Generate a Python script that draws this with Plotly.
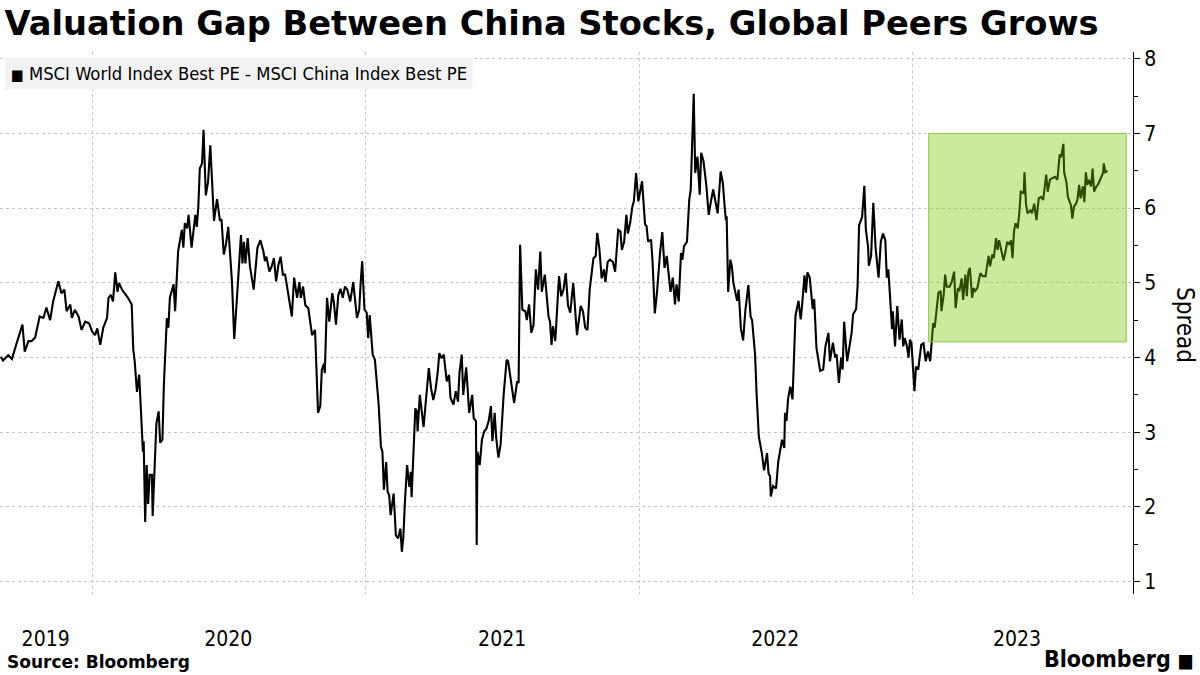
import pandas as pd
import plotly.graph_objects as go

# spread, dated as days after 2019-09-01
day_offset = [
    0, 3, 10, 15, 19, 23, 29, 32, 37, 41, 46, 52, 57, 61, 66, 70, 77, 81, 85, 88,
    93, 95, 99, 104, 108, 113, 118, 122, 126, 129, 133, 137, 142, 144, 147, 150, 153, 156, 158, 162,
    166, 170, 175, 177, 179, 182, 185, 187, 190, 191, 193, 195, 197, 199, 202, 203, 206, 208, 211, 213,
    216, 218, 222, 224, 226, 231, 233, 237, 242, 244, 246, 249, 251, 255, 260, 262, 264, 266, 269, 271,
    274, 277, 280, 282, 285, 289, 293, 295, 298, 301, 304, 309, 312, 315, 321, 323, 325, 327, 330, 333,
    338, 343, 347, 351, 353, 355, 359, 362, 365, 368, 371, 374, 377, 380, 385, 389, 392, 396, 399, 401,
    404, 407, 411, 416, 420, 422, 424, 427, 429, 432, 433, 436, 439, 443, 445, 448, 451, 454, 457, 460,
    463, 467, 471, 476, 479, 481, 483, 486, 489, 491, 493, 497, 500, 505, 508, 510, 512, 515, 517, 519,
    521, 525, 528, 531, 534, 536, 538, 540, 543, 546, 548, 549, 551, 554, 556, 557, 560, 565, 568, 572,
    575, 578, 581, 584, 586, 589, 592, 596, 599, 601, 605, 608, 611, 613, 616, 618, 622, 626, 630, 632,
    635, 636, 637, 640, 643, 646, 649, 652, 655, 657, 660, 662, 665, 668, 672, 676, 678, 682, 686, 690,
    692, 694, 697, 701, 703, 706, 709, 712, 715, 718, 721, 723, 727, 732, 734, 736, 738, 741, 744, 746,
    749, 752, 755, 758, 761, 765, 770, 772, 775, 778, 781, 784, 787, 792, 795, 797, 800, 803, 806, 808,
    811, 814, 818, 821, 825, 828, 830, 833, 836, 838, 841, 844, 846, 849, 852, 854, 857, 859, 861, 863,
    865, 869, 871, 874, 877, 881, 884, 887, 890, 893, 895, 898, 901, 903, 906, 909, 911, 913, 917, 920,
    922, 926, 928, 931, 934, 936, 939, 943, 946, 949, 952, 955, 958, 962, 965, 967, 969, 970, 972, 975,
    977, 979, 981, 984, 986, 989, 992, 995, 999, 1002, 1004, 1008, 1010, 1013, 1017, 1020, 1024, 1026, 1028, 1029,
    1032, 1036, 1039, 1044, 1047, 1048, 1050, 1052, 1055, 1058, 1060, 1062, 1066, 1069, 1071, 1074, 1076, 1078, 1081, 1085,
    1087, 1090, 1095, 1099, 1102, 1106, 1108, 1112, 1115, 1117, 1120, 1123, 1125, 1127, 1131, 1134, 1137, 1139, 1143, 1145,
    1147, 1151, 1154, 1156, 1159, 1160, 1163, 1166, 1169, 1173, 1176, 1179, 1182, 1184, 1186, 1188, 1191, 1192, 1195, 1198,
    1201, 1204, 1206, 1208, 1211, 1213, 1215, 1217, 1219, 1221, 1223, 1226, 1230, 1233, 1236, 1239, 1242, 1244, 1246, 1248,
    1251, 1253, 1256, 1257, 1260, 1262, 1264, 1268, 1271, 1274, 1276, 1279, 1281, 1284, 1286, 1289, 1291, 1293, 1295, 1298,
    1300, 1302, 1305, 1309, 1312, 1316, 1320, 1322, 1325, 1327, 1330, 1332, 1334, 1338, 1340, 1342, 1345, 1348, 1350, 1352,
    1354, 1356, 1359, 1361, 1363, 1367, 1368, 1370, 1372, 1376, 1378, 1381, 1384, 1387, 1390, 1393, 1397, 1399, 1402, 1405,
    1409, 1412, 1415, 1417, 1420, 1421, 1424, 1426, 1428, 1430, 1432, 1434, 1437, 1439, 1441, 1443, 1446, 1448, 1450, 1452,
    1454, 1457, 1459, 1461, 1464, 1466, 1469, 1473, 1474, 1476, 1479,
]
spread = [
    4.01, 3.96, 4.03, 3.98, 4.12, 4.24, 4.44, 4.08, 4.22, 4.22, 4.27, 4.55, 4.53, 4.67, 4.50, 4.75, 5.02, 4.86, 4.91, 4.62,
    4.71, 4.53, 4.64, 4.55, 4.37, 4.48, 4.46, 4.35, 4.30, 4.39, 4.17, 4.40, 4.53, 4.80, 4.84, 4.75, 5.14, 4.88, 5.00, 4.91,
    4.86, 4.80, 4.71, 4.12, 3.95, 3.54, 3.77, 3.32, 2.74, 2.88, 1.80, 2.56, 2.04, 2.43, 2.43, 1.88, 2.58, 3.12, 3.28, 2.86,
    2.90, 3.64, 4.53, 4.40, 4.80, 4.98, 4.62, 5.42, 5.71, 5.47, 5.80, 5.73, 5.91, 5.47, 5.91, 5.75, 6.02, 6.53, 6.60, 7.05,
    6.17, 6.35, 6.84, 6.46, 5.83, 6.12, 5.83, 5.85, 5.38, 5.52, 5.75, 5.01, 4.25, 4.70, 5.64, 5.26, 5.55, 5.26, 5.60, 5.22,
    4.91, 5.47, 5.57, 5.42, 5.29, 5.35, 5.15, 5.22, 5.33, 5.02, 5.24, 5.35, 5.11, 5.11, 4.80, 4.55, 5.07, 4.80, 5.01, 4.80,
    4.95, 4.70, 4.66, 4.30, 4.37, 3.79, 3.26, 3.35, 3.83, 3.92, 3.79, 4.80, 4.48, 4.86, 4.75, 4.44, 4.83, 4.92, 4.80, 4.95,
    4.91, 4.75, 5.01, 4.53, 4.64, 5.01, 5.29, 4.64, 4.60, 4.26, 4.57, 4.04, 3.97, 3.37, 2.81, 2.74, 2.23, 2.60, 2.20, 2.16,
    1.89, 2.18, 1.62, 1.58, 1.71, 1.40, 1.60, 2.05, 2.56, 2.27, 2.47, 2.13, 2.65, 3.32, 3.28, 3.01, 3.50, 3.07, 3.41, 3.86,
    3.59, 3.43, 3.57, 3.81, 4.06, 3.99, 4.04, 3.68, 3.77, 3.46, 3.37, 3.55, 3.41, 3.80, 4.04, 3.50, 3.87, 3.26, 3.50, 3.19,
    3.15, 1.49, 2.74, 2.56, 2.90, 3.01, 3.05, 3.15, 3.35, 2.88, 3.26, 2.93, 2.66, 2.84, 3.50, 3.97, 3.95, 3.68, 3.39, 3.68,
    3.66, 5.51, 4.64, 4.62, 4.50, 4.71, 4.33, 4.44, 5.18, 4.91, 5.42, 4.88, 5.11, 4.55, 4.48, 4.17, 4.42, 4.22, 4.71, 5.09,
    4.82, 4.91, 5.13, 4.70, 4.60, 5.00, 4.30, 4.44, 4.69, 4.62, 4.40, 4.37, 4.91, 5.33, 5.36, 5.67, 5.45, 5.06, 5.18, 5.01,
    5.28, 5.31, 5.28, 5.15, 5.71, 5.69, 5.44, 5.55, 5.91, 5.66, 5.80, 6.02, 6.09, 6.47, 6.09, 6.20, 6.36, 6.07, 5.78, 5.76,
    5.55, 5.58, 5.28, 4.59, 4.88, 5.40, 5.68, 5.20, 5.36, 5.07, 4.88, 5.07, 4.71, 4.98, 4.75, 5.40, 5.31, 5.49, 5.55, 6.11,
    6.25, 7.53, 6.47, 6.69, 6.18, 6.74, 6.63, 6.29, 5.91, 6.09, 6.25, 6.09, 5.93, 6.49, 6.33, 6.06, 5.84, 5.89, 4.88, 5.31,
    5.22, 5.00, 4.91, 4.76, 4.91, 4.39, 4.23, 4.63, 4.97, 4.55, 4.50, 4.04, 3.52, 2.94, 2.72, 2.49, 2.72, 2.45, 2.41, 2.14,
    2.28, 2.25, 2.61, 2.90, 2.79, 3.26, 3.15, 3.44, 3.61, 3.44, 4.00, 4.56, 4.76, 4.51, 4.72, 5.10, 4.87, 5.14, 5.07, 4.65,
    4.78, 4.13, 3.82, 3.84, 4.15, 4.33, 3.95, 4.20, 4.00, 4.04, 3.66, 4.00, 3.84, 4.48, 3.95, 4.17, 4.33, 4.58, 4.65, 4.96,
    5.77, 5.88, 6.30, 5.72, 5.48, 5.23, 5.36, 6.07, 5.47, 5.07, 5.55, 5.66, 5.57, 5.07, 5.18, 4.87, 4.38, 4.62, 4.15, 4.69,
    4.24, 4.51, 4.15, 4.26, 4.15, 4.00, 4.24, 4.19, 3.79, 3.55, 3.88, 3.84, 4.17, 4.19, 3.95, 4.08, 3.95, 4.19, 4.46, 4.40,
    4.69, 4.87, 4.89, 4.62, 4.84, 5.11, 4.95, 4.95, 5.02, 5.15, 4.66, 4.93, 4.89, 5.06, 4.77, 5.11, 4.82, 5.15, 5.20, 4.80,
    4.93, 4.89, 4.93, 5.13, 5.09, 5.09, 5.36, 5.22, 5.38, 5.33, 5.60, 5.44, 5.57, 5.39, 5.30, 5.39, 5.55, 5.51, 5.57, 5.33,
    5.69, 5.80, 5.73, 5.93, 6.22, 6.20, 6.48, 6.06, 5.93, 5.97, 5.93, 6.06, 5.84, 6.13, 6.15, 6.11, 6.45, 6.22, 6.38, 6.40,
    6.42, 6.38, 6.72, 6.68, 6.86, 6.48, 6.35, 6.15, 6.08, 6.04, 5.86, 6.02, 6.06, 6.13, 6.31, 6.13, 6.29, 6.08, 6.48, 6.31,
    6.38, 6.29, 6.53, 6.22, 6.29, 6.31, 6.38, 6.47, 6.60, 6.48, 6.50,
]

year_labels = ["2019", "2020", "2021", "2022", "2023"]
year_label_dates = ["2019-10-31", "2020-07-01", "2021-07-02", "2022-07-02", "2023-05-21"]
x_range = ["2019-08-31", "2023-10-23"]

# highlighted stretch
box_start, box_end = "2023-01-23", "2023-10-14"
box_low, box_high = 4.21, 7.0

dates = pd.Timestamp("2019-09-01") + pd.to_timedelta(day_offset, unit="D")

narrow = "DejaVu Sans Condensed, Liberation Sans Narrow, Roboto, sans-serif"
bold = "DejaVu Sans, Noto Sans, sans-serif"

fig = go.Figure()
fig.add_trace(go.Scatter(
    x=dates, y=spread, mode="lines",
    line=dict(color="black", width=2.1),
    hoverinfo="skip", showlegend=False,
))

fig.add_shape(
    type="rect", xref="x", yref="y",
    x0=box_start, x1=box_end, y0=box_low, y1=box_high,
    fillcolor="rgba(118,200,0,0.38)",
    line=dict(color="#8cc63f", width=1),
    layer="above",
)

fig.update_layout(
    width=1200, height=675,
    margin=dict(l=0, r=67, t=52, b=81),
    paper_bgcolor="white", plot_bgcolor="white",
    title=dict(
        text="<b>Valuation Gap Between China Stocks, Global Peers Grows</b>",
        x=0.004, xanchor="left", xref="paper",
        y=0.966, yanchor="middle",
        font=dict(family=bold, size=33.7, color="black"),
    ),
    xaxis=dict(
        type="date", range=x_range,
        tickmode="array", tickvals=year_label_dates, ticktext=year_labels,
        ticks="", showgrid=False, showline=False, zeroline=False,
        ticklabelstandoff=30,
        tickfont=dict(family=narrow, size=21, color="black"),
        minor=dict(
            tickmode="linear", tick0="2020-01-01", dtick="M12",
            showgrid=True, gridcolor="#c8c8c8", griddash="dot", gridwidth=1,
            ticks="",
        ),
    ),
    yaxis=dict(
        side="right", range=[0.835, 8.09],
        tickmode="linear", tick0=1, dtick=1,
        showgrid=True, gridcolor="#c8c8c8", griddash="dot", gridwidth=1,
        showline=True, linecolor="black", linewidth=1,
        ticks="outside", ticklen=6, tickcolor="black",
        tickfont=dict(family=narrow, size=21, color="black"),
        zeroline=False,
        minor=dict(tickmode="linear", tick0=0.5, dtick=1, ticks="outside",
                   ticklen=4, tickcolor="black", showgrid=False),
    ),
)

# axis title reads top to bottom, as in the original
fig.add_annotation(
    xref="paper", yref="paper", x=1.046, y=0.496,
    xanchor="center", yanchor="middle", textangle=90,
    text="Spread", showarrow=False,
    font=dict(family=narrow, size=24, color="black"),
)
fig.add_annotation(
    xref="paper", yref="paper", x=0.0045, y=0.99,
    xanchor="left", yanchor="top",
    text="<span style='font-size:15px'>■</span> MSCI World Index Best PE - MSCI China Index Best PE",
    showarrow=False, align="left",
    font=dict(family=narrow, size=18.3, color="black"),
    bgcolor="#f2f2f2", borderpad=5,
)
fig.add_annotation(
    xref="paper", yref="paper", x=0.004, y=-0.125,
    xanchor="left", yanchor="middle",
    text="<b>Source: Bloomberg</b>", showarrow=False,
    font=dict(family=bold, size=17, color="black"),
)
fig.add_annotation(
    xref="paper", yref="paper", x=1.055, y=-0.12,
    xanchor="right", yanchor="middle",
    text="<b>Bloomberg</b> <span style='font-size:19px'>■</span>", showarrow=False,
    font=dict(family=narrow, size=23, color="black"),
)

fig.write_html(
    "out.html",
    config={"displayModeBar": False},
    post_script="document.body.style.margin='0px';",
)
